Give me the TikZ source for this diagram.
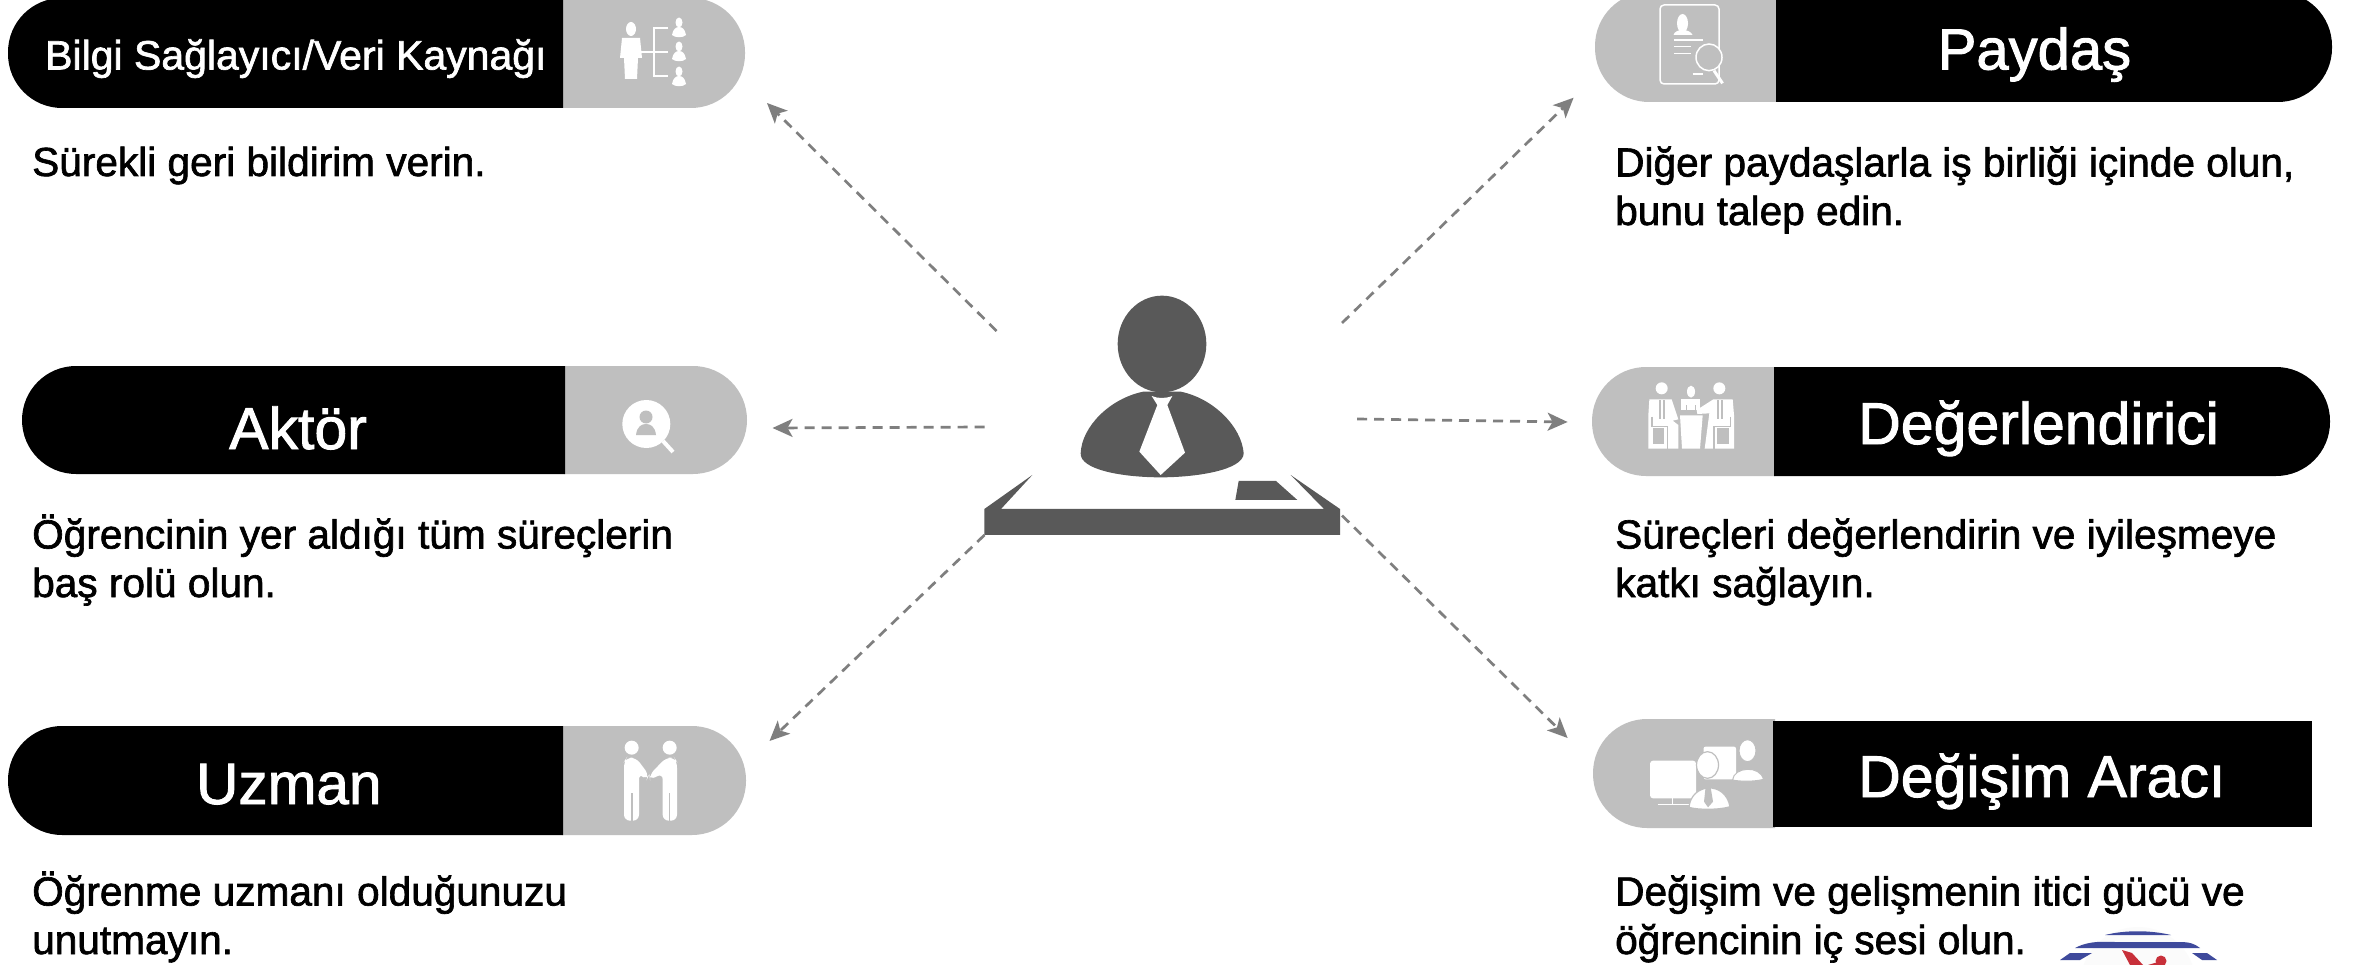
\documentclass[tikz,border=0pt]{standalone}
\usepackage{fontspec}
\setmainfont{Liberation Sans}
\newfontfamily\heavyf{Liberation Sans}[BoldFont={Liberation Sans},BoldFeatures={FakeBold=1.6}]
\usetikzlibrary{arrows.meta}
\definecolor{panelgray}{HTML}{BFBFBF}
\definecolor{figgray}{HTML}{595959}
\definecolor{linegray}{HTML}{7F7F7F}
\definecolor{logoblue}{HTML}{3F4A9C}
\definecolor{logored}{HTML}{C8303A}
\tikzset{
  bodytext/.style={inner sep=0pt,anchor=base west,align=left,font=\heavyf\bfseries\fontsize{40.6}{48.5}\selectfont,text=black},
  titletext/.style={inner sep=0pt,anchor=base west,text=white,font=\heavyf\bfseries\fontsize{#1}{#1}\selectfont},
  flow/.style={draw=linegray,line width=2.7pt,dash pattern=on 10pt off 7pt,-{Stealth[length=20pt,width=18pt,inset=5pt]}},
}
% left pill: black part left, grey part right
\newcommand{\pillL}[5]{% xl split xr yt yb
  \fill[panelgray,rounded corners=54pt] (#2-1,#4) -- (#3,#4) -- (#3,#5) [sharp corners] -- (#2-1,#5) -- cycle;
  \fill[black,rounded corners=54pt] (#2,#4) -- (#1,#4) -- (#1,#5) [sharp corners] -- (#2,#5) -- cycle;
}
% right pill: grey part left, black part right
\newcommand{\pillR}[5]{%
  \fill[panelgray,rounded corners=54pt] (#2+1,#4) -- (#1,#4) -- (#1,#5) [sharp corners] -- (#2+1,#5) -- cycle;
  \fill[black,rounded corners=54pt] (#2,#4) -- (#3,#4) -- (#3,#5) [sharp corners] -- (#2,#5) -- cycle;
}
\newcommand{\smallperson}[2]{% centre x, top y
  \fill[white] (#1,#2+4.5) ellipse (3.5 and 5);
  \fill[white] (#1-7,#2+17) .. controls (#1-6,#2+11) and (#1-3,#2+9) .. (#1,#2+9) .. controls (#1+3,#2+9) and (#1+6,#2+11) .. (#1+7,#2+17) .. controls (#1+4,#2+20) and (#1-4,#2+20) .. (#1-7,#2+17) -- cycle;
}
\begin{document}
\begin{tikzpicture}[x=1pt,y=-1pt]
\useasboundingbox (0,0) rectangle (2357,965);
\fill[white] (0,0) rectangle (2357,965);

% pills
\pillL{8}{563}{745}{-2}{108}
\pillL{22}{565}{747}{366}{474}
\pillL{8}{563}{746}{726}{835}
\pillR{1595}{1776}{2332}{-8}{102}
\pillR{1592}{1774}{2330}{367}{476}
% Degisim: right end square
\fill[panelgray,rounded corners=54pt] (1775,719) -- (1593,719) -- (1593,828) [sharp corners] -- (1775,828) -- cycle;
\fill[black] (1773,721) rectangle (2312,827);

% titles
\node[titletext=41] (t1) at (45,69.5) {Bilgi Sağlayıcı/Veri Kaynağı};
\node[titletext=59] (t2) at (229,449) {Aktör};
\node[titletext=58.5] (t3) at (196,804) {Uzman};
\node[titletext=58] (t4) at (1937.5,69.5) {Paydaş};
\node[titletext=59] (t5) at (1858,444) {Değerlendirici};
\node[titletext=59] (t6) at (1858,797) {Değişim Aracı};

% body texts
\node[bodytext] (b1) at (32,176) {Sürekli geri bildirim verin.};
\node[bodytext] (b2) at (32,597) {Öğrencinin yer aldığı tüm süreçlerin\\baş rolü olun.};
\node[bodytext] (b3) at (32,954) {Öğrenme uzmanı olduğunuzu\\unutmayın.};
\node[bodytext] (b4) at (1615,225) {Diğer paydaşlarla iş birliği içinde olun,\\bunu talep edin.};
\node[bodytext] (b5) at (1615,597) {Süreçleri değerlendirin ve iyileşmeye\\katkı sağlayın.};
\node[bodytext] (b6) at (1615,954) {Değişim ve gelişmenin itici gücü ve\\öğrencinin iç sesi olun.};

% central figure
\begin{scope}[shift={(950pt,-270pt)},x=0.33333pt,y=-0.33333pt]
  \fill[figgray] (636,222) ellipse (133 and 145);
  \fill[figgray] (392,550) .. controls (395,470) and (480,385) .. (580,365) -- (692,365)
    .. controls (790,385) and (875,470) .. (881,550)
    .. controls (880,600) and (740,622) .. (632,622)
    .. controls (520,622) and (390,600) .. (392,550) -- cycle;
  \fill[white] (605,378) .. controls (625,386) and (645,386) .. (667,378) -- (652,405) -- (705,548) -- (632,615) -- (568,545) -- (622,405) -- cycle;
  \fill[figgray] (103,717) -- (247,615) -- (153,717) -- (1122,717) -- (1022,615) -- (1170,717) -- (1170,795) -- (103,795) -- cycle;
  \fill[figgray] (866,633) -- (978,633) -- (1042,690) -- (856,690) -- cycle;
\end{scope}

% arrow end points
\coordinate (c1) at (996.5,331); \coordinate (e1) at (767,103);
\coordinate (c2) at (984.5,427);  \coordinate (e2) at (772.5,428);
\coordinate (c3) at (984.5,535);  \coordinate (e3) at (769.5,741);
\coordinate (c4) at (1342,323); \coordinate (e4) at (1573.6,97.7);
\coordinate (c5) at (1357,419); \coordinate (e5) at (1567.6,422);
\coordinate (c6) at (1342,515.5); \coordinate (e6) at (1567.6,738);
\draw[flow] (c1) -- (e1);
\draw[flow] (c2) -- (e2);
\draw[flow] (c3) -- (e3);
\draw[flow] (c4) -- (e4);
\draw[flow] (c5) -- (e5);
\draw[flow] (c6) -- (e6);

% icon: Bilgi
\fill[white] (631,29) ellipse (5 and 7);
\fill[white] (622,38) -- (640,38) -- (642,58) -- (638,58) -- (637,79) -- (625,79) -- (624,58) -- (620,58) -- cycle;
\draw[white,line width=1.5pt] (640,52) -- (654,52) (668,28) -- (654,28) -- (654,76) -- (668,76) (654,52) -- (668,52);
\smallperson{679}{18}
\smallperson{679}{42}
\smallperson{679}{67}

% icon: Aktor
\fill[white] (646.3,424) circle (24);
\draw[white,line width=4pt] (663,441) -- (673,452);
\fill[panelgray] (646,417) circle (6.5);
\fill[panelgray] (636,435) .. controls (637,426) and (642,424) .. (646,424) .. controls (650,424) and (655,426) .. (656,435) -- cycle;

% icon: Uzman
\begin{scope}[shift={(530pt,-710pt)},x=0.33333pt,y=-0.33333pt]
  \fill[white] (305,113) circle (21);
  \fill[white] (419,113) circle (21);
  \fill[white,rounded corners=6pt] (282,155) -- (290,143) -- (318,143) -- (357,195) -- (350,210) -- (327,190) -- (327,332) -- (282,332) -- cycle;
  \fill[white,rounded corners=6pt] (441,155) -- (433,143) -- (408,143) -- (358,195) -- (360,210) -- (398,190) -- (398,332) -- (441,332) -- cycle;
  \draw[panelgray,line width=1.2pt] (306,250) -- (306,334) (418,250) -- (418,334);
\end{scope}

% icon: Paydas
\begin{scope}[shift={(1580pt,0pt)},x=0.5pt,y=-0.33333pt]
  \draw[white,line width=1.5pt,rounded corners=4pt] (160,15) rectangle (278,252);
  \fill[white] (205,70) ellipse (11 and 28);
  \fill[white] (187,105) .. controls (190,85) and (220,85) .. (225,105) -- cycle;
  \draw[white,line width=1.2pt] (188,120) -- (245,120) (188,140) -- (222,140) (188,160) -- (222,160);
  \fill[panelgray] (258,172) ellipse (26 and 40);
  \draw[white,line width=1.5pt] (258,172) ellipse (26 and 40);
  \draw[white,line width=3pt] (268,212) -- (285,250);
  \draw[white,line width=1.5pt] (225,222) -- (245,222);
\end{scope}

% icon: Degerlendirici
\begin{scope}[shift={(1580pt,-350pt)},x=0.33333pt,y=-0.33333pt]
  \fill[white] (245,115) circle (18);
  \fill[white] (418,115) circle (18);
  \fill[white] (333,125) ellipse (12 and 18);
  % left person and chair
  \fill[white] (208,148) -- (275,148) -- (295,208) -- (278,212) -- (295,225) -- (295,296) -- (205,296) -- (205,195) -- cycle;
  \fill[panelgray] (218,235) rectangle (252,282);
  \draw[panelgray,line width=1.2pt] (240,150) -- (240,208) (252,150) -- (252,208) (216,200) -- (216,230) -- (262,230) -- (262,296);
  % middle person
  \fill[white] (303,180) -- (303,148) -- (360,148) -- (360,180) -- cycle;
  \draw[panelgray,line width=1pt] (318,165) -- (318,182) (345,165) -- (345,182);
  % table
  \fill[white] (300,196) -- (368,196) -- (360,296) -- (306,296) -- cycle;
  % right person and chair
  \fill[white] (458,148) -- (400,148) -- (350,180) -- (352,192) -- (388,190) -- (374,296) -- (462,296) -- (462,195) -- cycle;
  \fill[panelgray] (412,235) rectangle (448,282);
  \draw[panelgray,line width=1.2pt] (414,150) -- (414,208) (426,150) -- (426,208) (452,200) -- (452,230) -- (402,230) -- (402,296);
\end{scope}

% icon: Degisim
\begin{scope}[shift={(1580pt,-700pt)},x=0.5pt,y=-0.33333pt]
  \fill[white,rounded corners=2pt] (247,140) rectangle (312,238);
  \draw[white,line width=1.5pt] (280,236) -- (320,236);
  \fill[white,draw=panelgray,line width=1pt] (335,152) ellipse (17 and 33);
  \fill[white,draw=panelgray,line width=1pt] (305,240) .. controls (308,200) and (360,195) .. (367,238) .. controls (350,245) and (320,245) .. (305,240) -- cycle;
  \fill[white,rounded corners=3pt] (140,182) rectangle (232,295);
  \draw[white,line width=1.5pt] (185,295) -- (185,312) (155,313) -- (218,313);
  \fill[white,draw=panelgray,line width=1.2pt] (255,195) ellipse (22 and 40);
  \fill[white,draw=panelgray,line width=1.2pt] (218,322) .. controls (222,250) and (290,240) .. (300,320) .. controls (280,330) and (235,330) .. (218,322) -- cycle;
  \fill[panelgray] (252,250) -- (260,250) -- (266,305) -- (256,322) -- (248,305) -- cycle;
\end{scope}

% logo
\fill[white!97!gray] (2138,985) circle (58);
\fill[logoblue] (2105,935) .. controls (2125,930) and (2150,930) .. (2171,935) -- cycle;
\fill[logoblue] (2075,948) .. controls (2090,940) and (2105,942) .. (2115,942) -- (2180,942) .. controls (2190,942) and (2195,944) .. (2200,948) -- cycle;
\fill[logoblue] (2070,953) -- (2092,953) -- (2080,960) -- (2060,960) -- cycle;
\fill[logoblue] (2192,953) -- (2207,953) -- (2217,960) -- (2202,960) -- cycle;
\fill[logored] (2122,950) -- (2132,953) -- (2143,965) -- (2130,965) -- cycle;
\fill[logored] (2161,961) circle (5.5);
\fill[logored] (2148,965) -- (2158,962) -- (2160,965) -- cycle;
\end{tikzpicture}
\end{document}
